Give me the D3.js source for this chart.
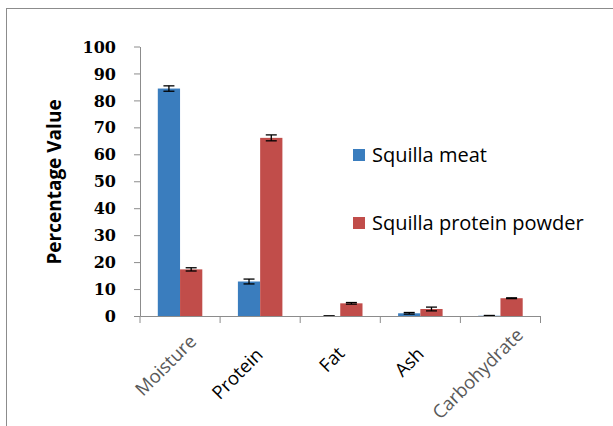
<!DOCTYPE html>
<html><head><meta charset="utf-8">
<script src="https://cdn.jsdelivr.net/npm/d3@7"></script>
<style>body{margin:0;background:#fff}svg{display:block}</style>
</head><body>
<svg id="c" width="613" height="426"></svg>
<script>
const categories = ["Moisture", "Protein", "Fat", "Ash", "Carbohydrate"];
const seriesNames = ["Squilla meat", "Squilla protein powder"];
const meatValues = [84.4, 12.8, 0, 1.0, 0.1];
const meatErrors = [1.0, 0.9, 0, 0.3, 0.1];
const powderValues = [17.3, 66.1, 4.7, 2.6, 6.6];
const powderErrors = [0.6, 1.1, 0.3, 0.7, 0.15];
const yTicks = [0, 10, 20, 30, 40, 50, 60, 70, 80, 90, 100];
const colors = ["#3A7DBE", "#C14D4A"];
const labelColors = ["#595959", "#000", "#000", "#000", "#595959"];
const labelShift = [19, 0, 2, 1, 28];

const svg = d3.select("#c");
svg.append("rect").attr("x", 6.5).attr("y", 8.5).attr("width", 700).attr("height", 500)
  .attr("fill", "none").attr("stroke", "#8c8c8c").attr("stroke-width", 1);

const x0 = 140, x1 = 540.5, yb = 316, yt = 46.5;
const x = d3.scaleBand().domain(categories).range([x0, x1]).paddingInner(0).paddingOuter(0);
const y = d3.scaleLinear().domain([0, 100]).range([yb, yt]);
const xs = d3.scaleBand().domain([0, 1]).range([0, x.bandwidth()]).paddingInner(0).paddingOuter(0.8);

const series = [
  {vals: meatValues, errs: meatErrors},
  {vals: powderValues, errs: powderErrors}
];

const g = svg.append("g");
series.forEach((s, si) => {
  categories.forEach((c, i) => {
    const v = s.vals[i];
    const bx = x(c) + xs(si);
    g.append("rect").attr("x", bx).attr("y", y(v)).attr("width", xs.bandwidth())
      .attr("height", yb - y(v)).attr("fill", colors[si]);
  });
});
// error bars
series.forEach((s, si) => {
  categories.forEach((c, i) => {
    const v = s.vals[i], e = s.errs[i];
    const cx = x(c) + xs(si) + xs.bandwidth() / 2;
    const eg = g.append("g").attr("stroke", "#000").attr("stroke-width", 1.3);
    eg.append("line").attr("x1", cx).attr("x2", cx).attr("y1", y(v + e)).attr("y2", y(v - e));
    eg.append("line").attr("x1", cx - 5.5).attr("x2", cx + 5.5).attr("y1", y(v + e)).attr("y2", y(v + e));
    eg.append("line").attr("x1", cx - 5.5).attr("x2", cx + 5.5).attr("y1", y(v - e)).attr("y2", y(v - e));
  });
});

// y axis
const ya = svg.append("g").attr("transform", `translate(${x0},0)`)
  .call(d3.axisLeft(y).tickValues(yTicks).tickSize(6).tickSizeOuter(0).tickPadding(18));
ya.selectAll("path,line").attr("stroke", "#8c8c8c");
ya.selectAll("text").attr("font-family", "'DejaVu Serif', serif").attr("font-weight", "bold")
  .attr("font-size", 16).attr("fill", "#000").attr("dy", "0.35em");

// x axis
const xa = svg.append("g").attr("transform", `translate(0,${yb})`)
  .call(d3.axisBottom(x).tickSize(0).tickFormat(""));
xa.select("path").attr("stroke", "#8c8c8c");
const edges = categories.map(c => x(c)).concat([x1]);
edges.forEach(ex => {
  xa.append("line").attr("x1", ex).attr("x2", ex).attr("y1", 0).attr("y2", 7).attr("stroke", "#8c8c8c");
});
categories.forEach((c, i) => {
  const cx = x(c) + x.bandwidth() / 2 + 4;
  svg.append("text").attr("transform", `translate(${cx},${yb + 40}) rotate(-45)`)
    .attr("text-anchor", "end").attr("x", labelShift[i])
    .attr("font-family", "'Open Sans', sans-serif").attr("font-size", 18.5)
    .attr("fill", labelColors[i]).text(c);
});

// y title
svg.append("text").attr("transform", `translate(61,182) rotate(-90)`)
  .attr("text-anchor", "middle")
  .attr("font-family", "'Open Sans', sans-serif").attr("font-weight", "bold").attr("font-size", 19)
  .attr("fill", "#000").text("Percentage Value");

// legend
const legY = [149, 217];
seriesNames.forEach((n, i) => {
  svg.append("rect").attr("x", 353).attr("y", legY[i]).attr("width", 12).attr("height", 12).attr("fill", colors[i]);
  svg.append("text").attr("x", 372).attr("y", legY[i] + 13)
    .attr("font-family", "'Open Sans', sans-serif").attr("font-size", 20).attr("fill", "#000")
    .text(n);
});
</script>
</body></html>
